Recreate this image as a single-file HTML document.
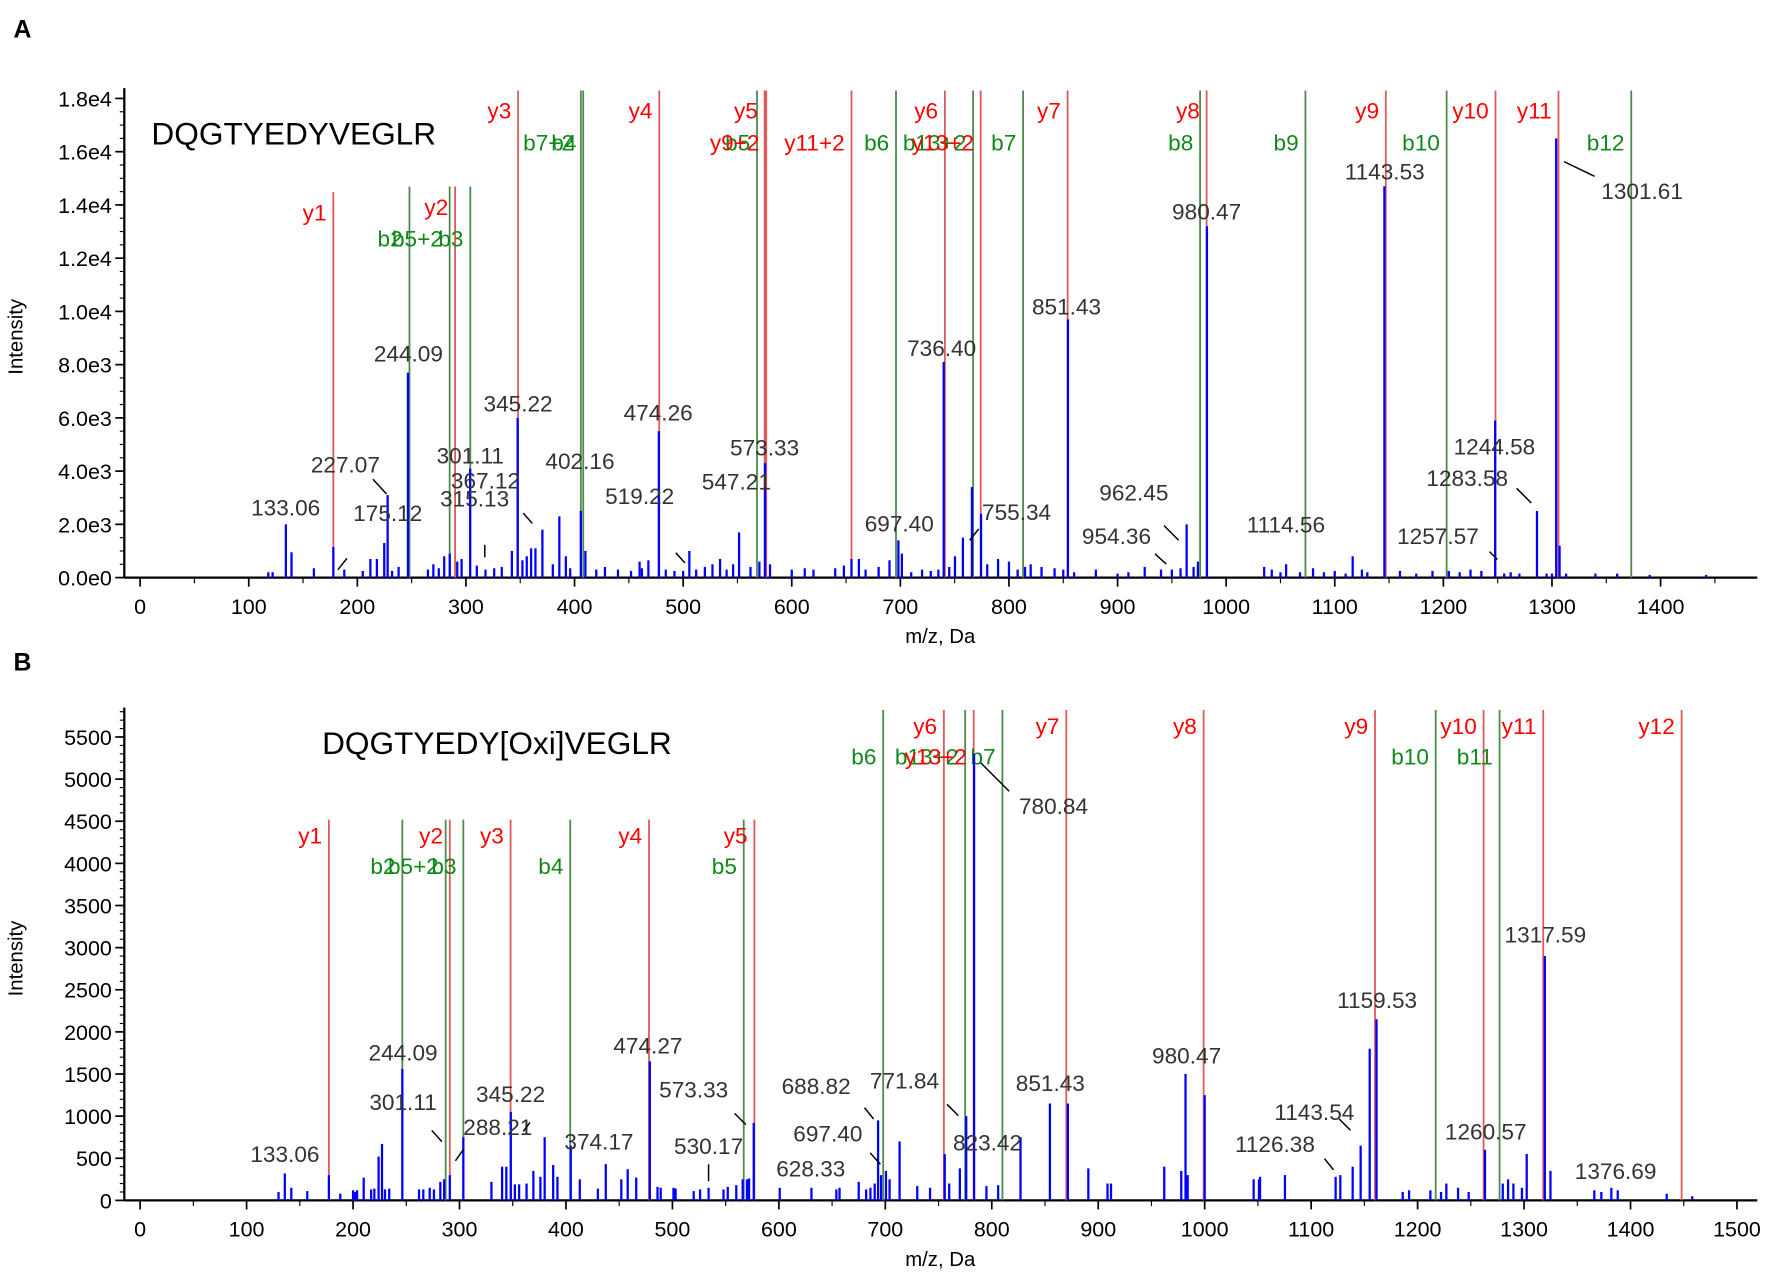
<!DOCTYPE html>
<html><head><meta charset="utf-8"><style>
html,body{margin:0;padding:0;background:#fff;}
svg{display:block;font-family:"Liberation Sans",Arial,sans-serif;}
</style></head><body>
<svg id="fig" width="1772" height="1275" viewBox="0 0 1568 1128" preserveAspectRatio="none" xmlns="http://www.w3.org/2000/svg">
<rect x="0" y="0" width="1568" height="1128" fill="#fff"/>
<text x="12" y="33" font-size="22" font-weight="bold">A</text>
<text x="12" y="593" font-size="22" font-weight="bold">B</text>
<g id="pa"></g>
<g id="pb"></g>
<g stroke="#000" stroke-width="1.3">
<line x1="330" y1="424" x2="342" y2="437"/>
<line x1="299" y1="504" x2="307" y2="494"/>
<line x1="429" y1="482" x2="429" y2="493"/>
<line x1="463" y1="454" x2="471" y2="463"/>
<line x1="598" y1="489" x2="606" y2="498"/>
<line x1="858" y1="478" x2="866" y2="468"/>
<line x1="1030" y1="465" x2="1043" y2="478"/>
<line x1="1022" y1="490" x2="1032" y2="499"/>
<line x1="1342" y1="432" x2="1355" y2="445"/>
<line x1="1318" y1="488" x2="1325" y2="495"/>
<line x1="1384" y1="143" x2="1411" y2="156"/>
<line x1="382" y1="1000" x2="391" y2="1010"/>
<line x1="403" y1="1027" x2="410" y2="1017"/>
<line x1="463" y1="1001" x2="469" y2="993"/>
<line x1="627" y1="1030" x2="627" y2="1045"/>
<line x1="650" y1="985" x2="660" y2="995"/>
<line x1="765" y1="980" x2="773" y2="990"/>
<line x1="770" y1="1020" x2="779" y2="1030"/>
<line x1="838" y1="977" x2="848" y2="987"/>
<line x1="868" y1="675" x2="893" y2="700"/>
<line x1="1185" y1="990" x2="1195" y2="1000"/>
<line x1="1172" y1="1025" x2="1180" y2="1035"/>
</g>
</svg>
<script>
// ---------- Panel A data ----------
const aPeakMz = [134.2,139.4,177.9,224.8,227.9,246.6,285.1,303.9,342.3,347.6,360,370.4,386,405.8,410,459.9,477.6,505.7,551.5,570.2,575.4,661.8,698.2,701.4,739.9,750.3,757.6,765.9,774.3,814.8,854.3,963.6,974,982.3,1055.2,1116.5,1145.7,1247.7,1286.2,1303.9,1307,1442,
 118,122,160,188,205,212,218,232,238,265,270,275,280,292,296,310,318,326,333,352,356,364,380,392,396,420,428,440,452,462,468,484,492,500,512,520,527,534,540,546,562,580,600,612,620,640,648,655,668,680,690,710,720,728,735,745,780,790,800,808,820,830,842,850,860,880,900,910,925,940,950,958,970,1035,1042,1050,1068,1080,1090,1100,1110,1125,1130,1160,1175,1190,1205,1215,1225,1235,1256,1262,1270,1295,1300,1313,1340,1360,1390];
const aPeakInt = [2000,950,1150,1300,3100,7700,900,4100,1000,6000,1100,1800,2300,2500,1000,600,5500,1000,1700,600,4300,700,1400,900,8100,800,1500,3400,2400,400,9700,2000,600,13200,500,800,14700,5900,2500,16500,1200,100,
 200,200,350,300,250,700,700,250,400,300,500,350,800,600,700,450,300,350,400,650,800,1100,500,800,350,300,400,300,250,350,650,300,250,250,300,400,500,700,300,500,400,500,300,350,300,350,450,700,300,400,650,200,300,250,300,400,500,700,600,300,500,400,350,300,200,300,150,200,400,300,300,350,400,400,300,200,200,350,200,250,150,300,200,250,150,250,250,200,300,250,150,200,150,150,150,150,150,150,100];
const aLabText = ["133.06","175.12","227.07","244.09","301.11","367.12","315.13","345.22","402.16","474.26","519.22","547.21","573.33","697.40","736.40","755.34","851.43","962.45","954.36","980.47","1114.56","1143.53","1244.58","1283.58","1257.57","1301.61"];
const aLabMz = [134,228,189,247,304,318,308,348,405,477,460,549,575,699,738,807,853,915,899,982,1055,1146,1247,1222,1195,1383];
const aLabInt = [2335,2120,3950,8110,4290,3350,2675,6240,4080,5900,2760,3310,4590,1740,8320,2170,9890,2890,1270,13460,1700,14950,4630,3440,1270,14230];
const aLineMz = [177.9,248,285,290,304,348,405.8,408,478,568,575,576.5,655,696,741,767,774,813,854,976,982,1073,1147,1203,1248,1306,1373];
const aLineType = ["y","b","b","y","b","y","b","b","y","b","y","y","y","b","y","b","y","b","y","b","y","b","y","b","y","y","b"];
const aLineTop = [14480,14690,14690,14690,14690,18300,18300,18300,18300,18300,18300,18300,18300,18300,18300,18300,18300,18300,18300,18300,18300,18300,18300,18300,18300,18300,18300];
const aLineLab = ["y1","b2","b5+2","y2","b3","y3","b7+2","b4","y4","b5","y5","y9+2","y11+2","b6","y6","b13+2","y13+2","b7","y7","b8","y8","b9","y9","b10","y10","y11","b12"];
const aLineRow = [1,2,2,1,2,1,2,2,1,2,1,2,2,2,1,2,2,2,1,2,1,2,1,2,1,1,2];
const aYTicks = [0,2000,4000,6000,8000,10000,12000,14000,16000,18000];
const aYTickLab = ["0.0e0","2.0e3","4.0e3","6.0e3","8.0e3","1.0e4","1.2e4","1.4e4","1.6e4","1.8e4"];
const aXTicks = [0,100,200,300,400,500,600,700,800,900,1000,1100,1200,1300,1400];

// ---------- Panel B data ----------
const bPeakMz = [135.9,142,177.3,227.2,224,203.8,246.3,290.9,285.6,303.6,344,348.2,363,380,369.4,404.5,413,437.4,478.8,489,466,570,576.4,600.8,630.6,657,675,693.2,700.6,713.4,755.8,776,783.4,827,854.6,871.5,908.7,890.7,982,1000,1051,1075.4,1127.4,1139,1146.5,1155,1161.4,1227,1263.3,1238,1280,1302.5,1319.5,1324.8,1372.6,1434,
 130,157,188,200,202,210,217,220,230,234,262,266,272,276,282,330,340,352,356,376,388,392,430,452,458,486,501,503,520,526,534,548,552,560,566,572,654,682,686,690,696,704,730,742,760,770,795,806,912,962,978,984,1046,1052,1123,1186,1192,1212,1222,1248,1285,1290,1298,1366,1382,1388,1458];
const bPeakInt = [320,150,300,670,520,120,1560,300,250,750,400,1050,200,750,350,650,250,430,1650,150,270,250,920,150,150,150,220,950,350,700,550,1000,5300,750,1150,1150,200,380,1500,1250,250,300,300,400,650,1800,2150,200,600,150,200,550,2900,350,100,80,
 100,110,80,120,100,270,130,140,130,140,130,130,150,130,220,220,400,190,190,280,420,280,140,250,370,160,150,140,110,130,150,130,160,180,250,260,130,130,150,200,300,250,170,150,200,380,170,180,200,400,350,300,250,280,280,100,120,120,100,100,250,200,150,120,150,120,50];
const bLabText = ["133.06","244.09","301.11","288.21","345.22","374.17","474.27","530.17","573.33","628.33","688.82","697.40","771.84","780.84","823.42","851.43","980.47","1143.54","1126.38","1159.53","1260.57","1317.59","1376.69"];
const bLabMz = [136,247,247,336,348,431,477,534,520,630,635,646,718,858,796,855,983,1103,1066,1162,1264,1320,1386];
const bLabInt = [456,1663,1073,778,1167,604,1744,550,1221,282,1261,698,1328,4588,590,1301,1623,952,577,2281,724,3059,255];
const bLineMz = [177.3,246.3,287,290.9,303.6,348,404,478,567,577,698,755,775,783,810,870,999,1160,1217,1262,1277,1318,1448];
const bLineType = ["y","b","b","y","b","y","b","y","b","y","b","y","b","y","b","y","y","y","b","y","b","y","y"];
const bLineTop = [4520,4520,4520,4520,4520,4520,4520,4520,4520,4520,5820,5820,5820,5820,5820,5820,5820,5820,5820,5820,5820,5820,5820];
const bLineLab = ["y1","b2","b5+2","y2","b3","y3","b4","y4","b5","y5","b6","y6","b13+2","y13+2","b7","y7","y8","y9","b10","y10","b11","y11","y12"];
const bLineRow = [1,2,2,1,2,1,2,1,2,1,2,1,2,2,2,1,1,1,2,1,2,1,1];
const bYTicks = [0,500,1000,1500,2000,2500,3000,3500,4000,4500,5000,5500];
const bYTickLab = ["0","500","1000","1500","2000","2500","3000","3500","4000","4500","5000","5500"];
const bXTicks = [0,100,200,300,400,500,600,700,800,900,1000,1100,1200,1300,1400,1500];

const NS = "http://www.w3.org/2000/svg";
function mk(parent, tag, attrs, txt) {
  const e = document.createElementNS(NS, tag);
  for (const k in attrs) e.setAttribute(k, attrs[k]);
  if (txt !== undefined) e.textContent = txt;
  parent.appendChild(e);
  return e;
}

function drawPanel(g, cfg) {
  const X = m => cfg.x0 + m * cfg.xs;
  const Y = v => cfg.base - v * cfg.ys;
  const yax = mk(g, "line", {x1: cfg.axX, y1: cfg.top, x2: cfg.axX, y2: cfg.base, stroke: "#000", "stroke-width": 2});
  
  
  const xax = mk(g, "line", {x1: cfg.axX, y1: cfg.base, x2: cfg.right, y2: cfg.base, stroke: "#000", "stroke-width": 2});
  
  
  for (let v = 0; v <= cfg.yMax; v += cfg.yMinor) {
    const t = mk(g, "line", {x1: cfg.axX - 4, y1: Y(v), x2: cfg.axX, y2: Y(v), stroke: "#000", "stroke-width": 1});
    
    
  }
  cfg.yTicks.forEach((v, i) => {
    const t = mk(g, "line", {x1: cfg.axX - 8, y1: Y(v), x2: cfg.axX, y2: Y(v), stroke: "#000", "stroke-width": 1.5});
    
    
    const l = mk(g, "text", {x: cfg.axX - 11, y: Y(v) + 7, "font-size": 19, "text-anchor": "end", fill: "#000"}, cfg.yTickLab[i]);
    
    
  });
  const xMax = cfg.xTicks[cfg.xTicks.length - 1];
  for (let m = 50; m <= xMax + 50; m += 100) {
    if (X(m) > cfg.right) break;
    const t = mk(g, "line", {x1: X(m), y1: cfg.base, x2: X(m), y2: cfg.base + 5, stroke: "#000", "stroke-width": 1});
    
    
  }
  cfg.xTicks.forEach(m => {
    const t = mk(g, "line", {x1: X(m), y1: cfg.base, x2: X(m), y2: cfg.base + 8, stroke: "#000", "stroke-width": 1.5});
    
    
    const l = mk(g, "text", {x: X(m), y: cfg.base + 32, "font-size": 19, "text-anchor": "middle", fill: "#000"}, String(m));
    
    
  });
  const xt = mk(g, "text", {x: 832, y: cfg.base + 58, "font-size": 18, "text-anchor": "middle"}, "m/z, Da");
  
  
  const yt = mk(g, "text", {x: 20, y: cfg.yTitleY, "font-size": 18, "text-anchor": "middle", transform: "rotate(-90 20 " + cfg.yTitleY + ")"}, "Intensity");
  
  
  const pt = mk(g, "text", {x: cfg.pepX, y: cfg.pepY, "font-size": 28, fill: "#000"}, cfg.pep);
  
  
  cfg.lineMz.forEach((m, i) => {
    const isY = cfg.lineType[i] === "y";
    const ln = mk(g, "line", {x1: X(m), y1: Y(cfg.lineTop[i]), x2: X(m), y2: cfg.base, stroke: isY ? "#e05a5a" : "#4f8a4f", "stroke-width": 1.6});
    
    
    const ly = Y(cfg.lineTop[i]) + (cfg.lineRow[i] === 1 ? cfg.row1 : cfg.row2);
    const lt = mk(g, "text", {x: X(m) - 6, y: ly, "font-size": 20, "text-anchor": "end", fill: isY ? "#ff0000" : "#11891a"}, cfg.lineLab[i]);
    
    
  });
  cfg.peakMz.forEach((m, i) => {
    const p = mk(g, "line", {x1: X(m), y1: cfg.base, x2: X(m), y2: Y(cfg.peakInt[i] || 0), stroke: "#0000ff", "stroke-width": 2});
    
    
  });
  cfg.labText.forEach((s, i) => {
    const t = mk(g, "text", {x: X(cfg.labMz[i]), y: Y(cfg.labInt[i]), "font-size": 20, "text-anchor": "middle", fill: "#333"}, s);
    
    
  });
}

drawPanel(document.getElementById("pa"), {
  x0: 124, xs: 0.961, base: 511, ys: 47.1 / 2000, axX: 110, top: 78, right: 1555, yMax: 18000, yMinor: 500,
  yTicks: aYTicks, yTickLab: aYTickLab, xTicks: aXTicks, yTitleY: 298,
  pep: "DQGTYEDYVEGLR", pepX: 134, pepY: 128, row1: 25, row2: 53,
  peakMz: aPeakMz, peakInt: aPeakInt, labText: aLabText, labMz: aLabMz, labInt: aLabInt,
  lineMz: aLineMz, lineType: aLineType, lineTop: aLineTop, lineLab: aLineLab, lineRow: aLineRow
});
drawPanel(document.getElementById("pb"), {
  x0: 124, xs: 0.942, base: 1062, ys: 37.27 / 500, axX: 110, top: 626, right: 1555, yMax: 5800, yMinor: 100,
  yTicks: bYTicks, yTickLab: bYTickLab, xTicks: bXTicks, yTitleY: 848,
  pep: "DQGTYEDY[Oxi]VEGLR", pepX: 285, pepY: 667, row1: 21, row2: 48,
  peakMz: bPeakMz, peakInt: bPeakInt, labText: bLabText, labMz: bLabMz, labInt: bLabInt,
  lineMz: bLineMz, lineType: bLineType, lineTop: bLineTop, lineLab: bLineLab, lineRow: bLineRow
});
</script>
</body></html>
